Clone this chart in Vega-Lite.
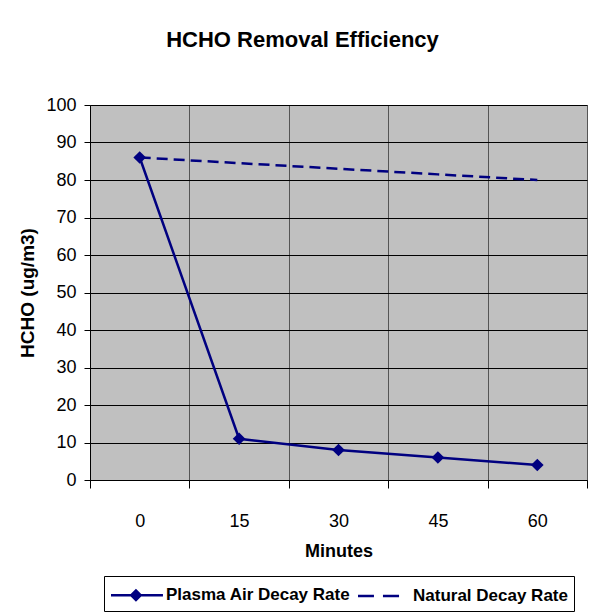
{
  "$schema": "https://vega.github.io/schema/vega-lite/v6.json",
  "width": 497,
  "height": 375,
  "autosize": "none",
  "padding": {"left": 90, "top": 105, "right": 9, "bottom": 136},
  "background": "white",
  "config": {
    "view": {"fill": "#C0C0C0", "stroke": "#808080", "strokeWidth": 1},
    "font": "Liberation Sans"
  },
  "title": {
    "text": "HCHO Removal Efficiency",
    "font": "Liberation Sans",
    "fontSize": 22,
    "fontWeight": "bold",
    "color": "black",
    "anchor": "middle",
    "dx": -36,
    "offset": 44
  },
  "data": {
    "values": [
      {"Minutes": 0, "Series": "Plasma Air Decay Rate", "HCHO": 86},
      {"Minutes": 15, "Series": "Plasma Air Decay Rate", "HCHO": 11},
      {"Minutes": 30, "Series": "Plasma Air Decay Rate", "HCHO": 8},
      {"Minutes": 45, "Series": "Plasma Air Decay Rate", "HCHO": 6},
      {"Minutes": 60, "Series": "Plasma Air Decay Rate", "HCHO": 4},
      {"Minutes": 0, "Series": "Natural Decay Rate", "HCHO": 86},
      {"Minutes": 15, "Series": "Natural Decay Rate", "HCHO": 84.5},
      {"Minutes": 30, "Series": "Natural Decay Rate", "HCHO": 83},
      {"Minutes": 45, "Series": "Natural Decay Rate", "HCHO": 81.5},
      {"Minutes": 60, "Series": "Natural Decay Rate", "HCHO": 80}
    ]
  },
  "encoding": {
    "x": {
      "field": "Minutes",
      "type": "ordinal",
      "sort": [0, 15, 30, 45, 60],
      "scale": {"type": "band", "paddingInner": 0, "paddingOuter": 0},
      "axis": {
        "tickBand": "extent",
        "grid": true,
        "gridColor": "#555555",
        "gridWidth": 1,
        "domainColor": "black",
        "tickColor": "black",
        "tickSize": 8,
        "labelAngle": 0,
        "labelFont": "Liberation Sans",
        "labelFontSize": 18,
        "labelColor": "black",
        "labelPadding": 24,
        "title": "Minutes",
        "titleFont": "Liberation Sans",
        "titleFontSize": 18,
        "titleFontWeight": "bold",
        "titleColor": "black",
        "titlePadding": 12
      }
    },
    "y": {
      "field": "HCHO",
      "type": "quantitative",
      "scale": {"domain": [0, 100], "nice": false},
      "axis": {
        "values": [0, 10, 20, 30, 40, 50, 60, 70, 80, 90, 100],
        "grid": true,
        "gridColor": "black",
        "gridWidth": 1,
        "domainColor": "black",
        "tickColor": "black",
        "tickSize": 6,
        "labelFont": "Liberation Sans",
        "labelFontSize": 18,
        "labelColor": "black",
        "labelPadding": 8,
        "title": "HCHO (ug/m3)",
        "titleFont": "Liberation Sans",
        "titleFontSize": 19,
        "titleFontWeight": "bold",
        "titleColor": "black",
        "titlePadding": 8
      }
    }
  },
  "layer": [
    {
      "transform": [{"filter": "datum.Series === 'Plasma Air Decay Rate'"}],
      "mark": {"type": "line", "color": "#000080", "strokeWidth": 2.5},
      "encoding": {}
    },
    {
      "transform": [{"filter": "datum.Series === 'Natural Decay Rate'"}],
      "mark": {"type": "line", "color": "#000080", "strokeWidth": 2.5, "strokeDash": [11, 6]},
      "encoding": {}
    },
    {
      "transform": [{"filter": "datum.Series === 'Plasma Air Decay Rate'"}],
      "mark": {"type": "point", "filled": true, "color": "#000080", "opacity": 1, "size": 160, "shape": "diamond"},
      "encoding": {}
    },
    {
      "transform": [{"filter": "datum.Series === 'Plasma Air Decay Rate'"}],
      "mark": {"type": "point", "filled": true, "color": "#000080", "size": 0, "opacity": 1},
      "encoding": {
        "shape": {
          "field": "Series",
          "type": "nominal",
          "scale": {
            "domain": ["Plasma Air Decay Rate", "Natural Decay Rate"],
            "range": [
              "M-1,-0.105L3.33,-0.105L3.33,0.105L-1,0.105ZM1.08,-0.54L1.62,0L1.08,0.54L0.54,0Z",
              "M-1,-0.105L0.33,-0.105L0.33,0.105L-1,0.105ZM1.08,-0.105L2.42,-0.105L2.42,0.105L1.08,0.105Z"
            ]
          },
          "legend": {
            "orient": "none",
            "legendX": 14,
            "legendY": 471,
            "direction": "horizontal",
            "title": null,
            "strokeColor": "black",
            "fillColor": "white",
            "padding": 6,
            "symbolSize": 576,
            "symbolFillColor": "#000080",
            "symbolOpacity": 1,
            "labelFont": "Liberation Sans",
            "labelFontSize": 17,
            "labelFontWeight": "bold",
            "labelColor": "black",
            "labelOffset": 30,
            "labelLimit": 300,
            "columnPadding": 4,
            "encode": {
              "symbols": {
                "update": {
                  "size": {"value": 576},
                  "fill": {"value": "#000080"},
                  "opacity": {"value": 1},
                  "fillOpacity": {"value": 1}
                }
              }
            }
          }
        }
      }
    }
  ]
}
